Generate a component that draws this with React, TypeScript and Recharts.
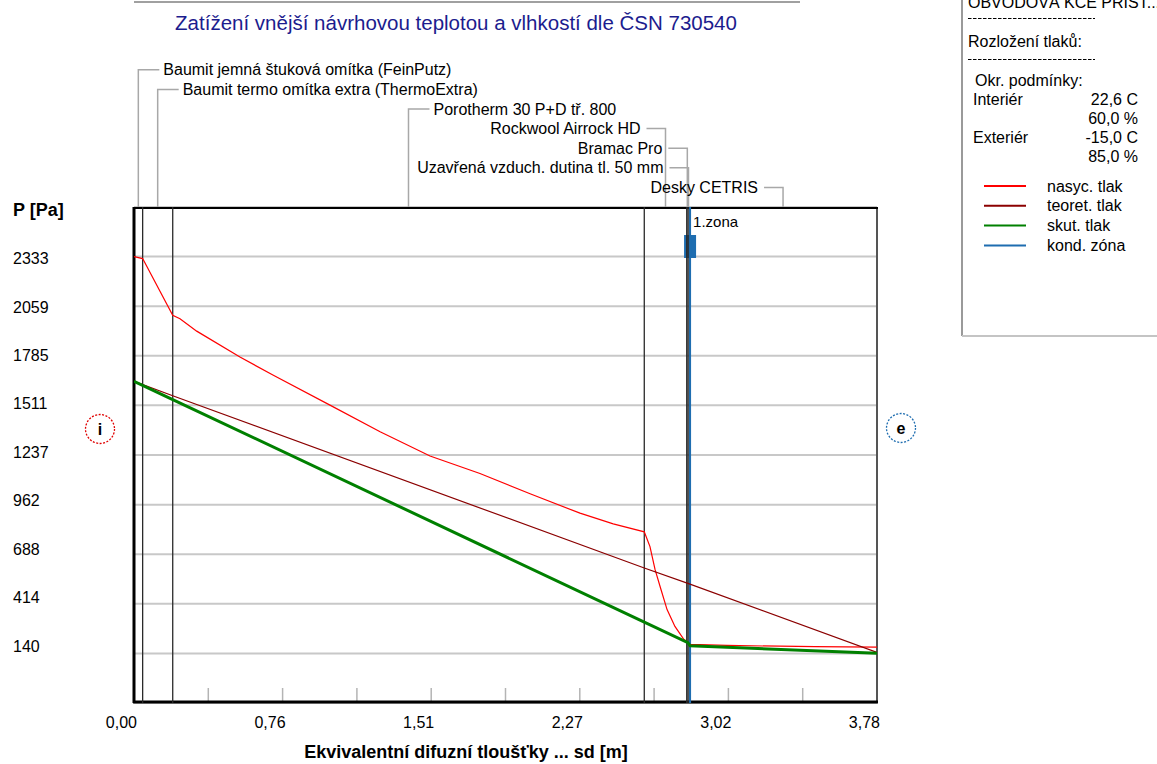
import React from "react";
import * as R from "recharts";
import { LineChart, Line, XAxis, YAxis, CartesianGrid, ReferenceLine, Customized } from "recharts";

// layers of the wall, left (interior) to right (exterior), boundaries in sd [m]
const LAYERS = [
  "Baumit jemná štuková omítka (FeinPutz)",
  "Baumit termo omítka extra (ThermoExtra)",
  "Porotherm 30 P+D tř. 800",
  "Rockwool Airrock HD",
  "Bramac Pro",
  "Uzavřená vzduch. dutina tl. 50 mm",
  "Desky CETRIS",
];
const LAYER_BOUNDS = [0, 0.044, 0.197, 2.596, 2.812, 2.818, 2.824, 3.78];

// nasyc. tlak (saturation pressure)
const NASYC_SD = [0, 0.044, 0.197, 0.234, 0.319, 0.539, 0.709, 0.997, 1.252, 1.506, 1.76, 2.015, 2.269, 2.438, 2.596, 2.625, 2.651, 2.681, 2.712, 2.752, 2.798, 2.812, 2.829, 3.017, 3.465, 3.78];
const NASYC_P = [2333, 2322, 2008, 1990, 1921, 1778, 1677, 1512, 1365, 1231, 1134, 1022, 915, 856, 812, 730, 603, 493, 382, 289, 217, 206, 190, 184, 177, 175];

// teoret. tlak
const TEORET_SD = [0, 0.197, 2.596, 2.818, 3.78];
const TEORET_P = [1644, 1564, 612, 527, 146];

// skut. tlak
const SKUT_SD = [0, 0.197, 2.596, 2.818, 2.829, 3.78];
const SKUT_P = [1644, 1543, 313, 199, 182, 141];

// kondenzační zóna
const KOND_SD = 2.829;
const KOND_LABEL = "1.zona";

const X_MIN = 0;
const X_MAX = 3.78;
const X_TICKS = [0, 0.756, 1.512, 2.268, 3.024, 3.78];
const X_MINOR = [0.378, 0.756, 1.134, 1.512, 1.89, 2.268, 2.646, 3.024, 3.402];
const Y_TICKS = [140, 414, 688, 962, 1237, 1511, 1785, 2059, 2333];
const Y_MIN = -134;
const Y_MAX = 2607;

const TITLE = "Zatížení vnější návrhovou teplotou a vlhkostí dle ČSN 730540";
const X_LABEL = "Ekvivalentní difuzní tloušťky ... sd [m]";
const Y_LABEL = "P [Pa]";

const PANEL_HEAD = "OBVODOVÁ KCE PŘÍST...";
const PANEL_SUB = "Rozložení tlaků:";
const COND_TITLE = "Okr. podmínky:";
const COND_ROWS = [
  ["Interiér", "22,6 C"],
  ["", "60,0 %"],
  ["Exteriér", "-15,0 C"],
  ["", "85,0 %"],
];
const LEGEND = ["nasyc. tlak", "teoret. tlak", "skut. tlak", "kond. zóna"];

const RED = "#ff0000";
const DARKRED = "#8b0000";
const GREEN = "#008000";
const BLUE = "#1e6db0";
const LEGEND_COLORS = [RED, DARKRED, GREEN, BLUE];

const FONT = '"Liberation Sans", Arial, sans-serif';
const W = 1157;
const H = 764;
const MARGIN = { top: 207, right: 280, bottom: 31, left: 0 };
const FALLBACK = { x: 134, y: 207, width: 743, height: 496 };

const toRows = (xs: number[], ys: number[]) => xs.map((sd, i) => ({ sd, p: ys[i] }));
const nasycData = toRows(NASYC_SD, NASYC_P);
const teoretData = toRows(TEORET_SD, TEORET_P);
const skutData = toRows(SKUT_SD, SKUT_P);

const usePlotAreaSafe: () => any = (R as any).usePlotArea ?? (() => null);

const fmt = (v: number) => v.toFixed(2).replace(".", ",");

function XTick(props: any) {
  const { x, y, payload } = props;
  return (
    <text x={x + 3} y={y + 19} textAnchor="end" dominantBaseline="central" fontSize={16} fill="#000" fontFamily={FONT}>
      {fmt(payload.value)}
    </text>
  );
}

function YTick(props: any) {
  const { x, y, payload } = props;
  const dy = 2 - ((2333 - payload.value) / 274.1) * 1.15;
  return (
    <text x={x - 121} y={y + dy} textAnchor="start" dominantBaseline="central" fontSize={16} fill="#000" fontFamily={FONT}>
      {payload.value}
    </text>
  );
}

function Overlay() {
  const area = usePlotAreaSafe() || FALLBACK;
  const sx = (v: number) => area.x + ((v - X_MIN) / (X_MAX - X_MIN)) * area.width;
  const left = area.x;
  const right = area.x + area.width;
  const top = area.y;
  const bottom = area.y + area.height;
  const kx = sx(KOND_SD);

  return (
    <g fontFamily={FONT} fill="#000">
      {/* header */}
      <line x1={left} x2={800} y1={2} y2={2} stroke="#a0a0a0" strokeWidth={2} />
      <text x={456} y={22} textAnchor="middle" dominantBaseline="central" fontSize={20.5} fill="#1c1c8e">
        {TITLE}
      </text>

      {/* layer leaders */}
      {LAYERS.map((name, i) => {
        const mid = (LAYER_BOUNDS[i] + LAYER_BOUNDS[i + 1]) / 2;
        const lx = sx(mid);
        const ry = top - (LAYERS.length - i) * 19.6;
        const atStart = mid < (X_MIN + X_MAX) / 2;
        return (
          <g key={name}>
            <polyline
              points={`${atStart ? lx + 21 : lx - 19},${ry} ${lx},${ry} ${lx},${top}`}
              fill="none"
              stroke="#a8a8a8"
              strokeWidth={1.5}
            />
            <text x={atStart ? lx + 25 : lx - 25} y={ry} textAnchor={atStart ? "start" : "end"} dominantBaseline="central" fontSize={16}>
              {name}
            </text>
          </g>
        );
      })}

      {/* minor ticks */}
      {X_MINOR.map((v) => (
        <line key={v} x1={sx(v)} x2={sx(v)} y1={bottom - 15} y2={bottom} stroke="#b4b4b4" strokeWidth={1.5} />
      ))}

      {/* frame */}
      <line x1={right} x2={right} y1={top} y2={bottom} stroke="#555" strokeWidth={2} />
      <line x1={left - 1} x2={right + 1} y1={top + 1} y2={top + 1} stroke="#000" strokeWidth={2} />
      <line x1={left - 1} x2={right + 1} y1={bottom - 1} y2={bottom - 1} stroke="#000" strokeWidth={3} />
      <line x1={left} x2={left} y1={top} y2={bottom} stroke="#000" strokeWidth={3} />

      {/* condensation zone marker */}
      <rect x={kx - 6} y={top + 28} width={12} height={23} fill={BLUE} />
      <text x={kx + 3} y={top + 14} dominantBaseline="central" fontSize={15}>
        {KOND_LABEL}
      </text>

      {/* i / e */}
      <circle cx={left - 34} cy={top + 222} r={14.5} fill="#fff" stroke="#e00000" strokeWidth={1.3} strokeDasharray="2 1.5" />
      <text x={left - 34} y={top + 222} textAnchor="middle" dominantBaseline="central" fontSize={16} fontWeight="bold">
        i
      </text>
      <circle cx={right + 24} cy={top + 221} r={14.5} fill="#fff" stroke={BLUE} strokeWidth={1.3} strokeDasharray="2 1.5" />
      <text x={right + 24} y={top + 221} textAnchor="middle" dominantBaseline="central" fontSize={16} fontWeight="bold">
        e
      </text>

      {/* axis titles */}
      <text x={13} y={210} dominantBaseline="central" fontSize={18} fontWeight="bold">
        {Y_LABEL}
      </text>
      <text x={466} y={752} textAnchor="middle" dominantBaseline="central" fontSize={18} fontWeight="bold">
        {X_LABEL}
      </text>

      {/* side panel */}
      <line x1={962} x2={962} y1={0} y2={336} stroke="#9a9a9a" strokeWidth={2} />
      <line x1={962} x2={1157} y1={336} y2={336} stroke="#c4c4c4" strokeWidth={2} />
      <text x={968} y={8} fontSize={16}>{PANEL_HEAD}</text>
      <line x1={968} x2={1095} y1={18.5} y2={18.5} stroke="#000" strokeWidth={1} strokeDasharray="3.5 1.5" />
      <text x={968} y={41} dominantBaseline="central" fontSize={16}>{PANEL_SUB}</text>
      <line x1={968} x2={1095} y1={59.5} y2={59.5} stroke="#000" strokeWidth={1} strokeDasharray="3.5 1.5" />
      <text x={975} y={80} dominantBaseline="central" fontSize={16}>{COND_TITLE}</text>
      {COND_ROWS.map(([a, b], i) => (
        <g key={i}>
          <text x={973} y={99 + i * 19.2} dominantBaseline="central" fontSize={16}>{a}</text>
          <text x={1138} y={99 + i * 19.2} textAnchor="end" dominantBaseline="central" fontSize={16}>{b}</text>
        </g>
      ))}
      {LEGEND.map((name, i) => (
        <g key={name}>
          <line x1={984} x2={1026} y1={186 + i * 19.8} y2={186 + i * 19.8} stroke={LEGEND_COLORS[i]} strokeWidth={2} />
          <text x={1047} y={186 + i * 19.8} dominantBaseline="central" fontSize={16}>{name}</text>
        </g>
      ))}
    </g>
  );
}

export default function App() {
  return (
    <div style={{ position: "absolute", left: 0, top: 0, width: W, height: H, background: "#fff", fontFamily: FONT }}>
      <LineChart width={W} height={H} margin={MARGIN}>
        <CartesianGrid horizontal vertical={false} stroke="#c8c8c8" strokeWidth={2} />
        <XAxis
          type="number"
          dataKey="sd"
          domain={[X_MIN, X_MAX]}
          ticks={X_TICKS}
          height={30}
          axisLine={false}
          tickLine={false}
          tickSize={0}
          tickMargin={0}
          tick={<XTick />}
          allowDataOverflow
        />
        <YAxis
          type="number"
          dataKey="p"
          domain={[Y_MIN, Y_MAX]}
          ticks={Y_TICKS}
          width={134}
          axisLine={false}
          tickLine={false}
          tickSize={0}
          tickMargin={0}
          tick={<YTick />}
          allowDataOverflow
        />
        {LAYER_BOUNDS.slice(1, -1).map((b) => (
          <ReferenceLine key={b} x={b} stroke="#2a2a2a" strokeWidth={1.3} />
        ))}
        <ReferenceLine x={KOND_SD} stroke={BLUE} strokeWidth={2} />
        <Line data={nasycData} dataKey="p" type="linear" stroke={RED} strokeWidth={1.2} dot={false} isAnimationActive={false} />
        <Line data={teoretData} dataKey="p" type="linear" stroke={DARKRED} strokeWidth={1.2} dot={false} isAnimationActive={false} />
        <Line data={skutData} dataKey="p" type="linear" stroke={GREEN} strokeWidth={3} dot={false} isAnimationActive={false} />
        <Customized component={<Overlay />} />
      </LineChart>
    </div>
  );
}
